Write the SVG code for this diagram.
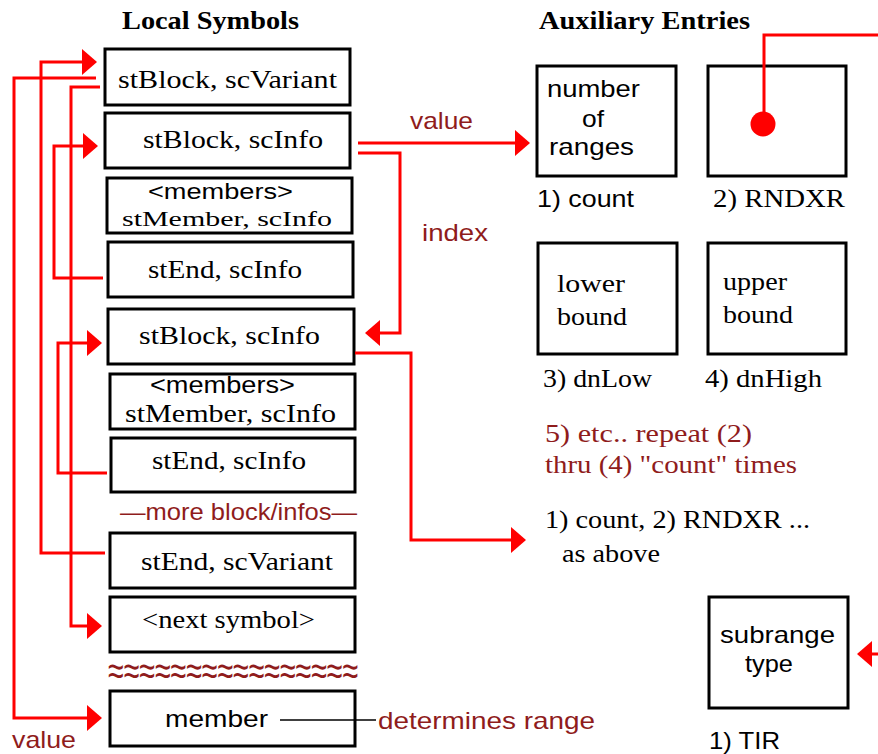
<svg xmlns="http://www.w3.org/2000/svg" width="878" height="754" viewBox="0 0 878 754">
<style>
.box{fill:#fff;stroke:#000;stroke-width:3}
.conn{fill:none;stroke:#ff0000;stroke-width:3}
.serif{font-family:"Liberation Serif","Times New Roman",serif;font-size:26px;fill:#000}
.sans{font-family:"Liberation Sans",Arial,sans-serif;font-size:24px;fill:#000}
.head{font-family:"Liberation Serif","Times New Roman",serif;font-size:25px;font-weight:bold;fill:#000}
.dr{fill:#8f1c1c}
.sm{font-size:22px}
</style>
<defs>
<marker id="arr" markerUnits="userSpaceOnUse" viewBox="0 0 15 26" refX="2" refY="13" markerWidth="15" markerHeight="26" orient="auto">
<path d="M0,0 L15,13 L0,26 Z" fill="#ff0000"/>
</marker>
</defs>
<rect width="878" height="754" fill="#fff"/>
<text class="head" x="122" y="29" textLength="177" lengthAdjust="spacingAndGlyphs">Local Symbols</text>
<text class="head" x="539" y="29" textLength="211" lengthAdjust="spacingAndGlyphs">Auxiliary Entries</text>

<g id="n1"><rect class="box" x="105" y="49" width="245" height="56"/><text class="serif" x="118" y="88" textLength="219" lengthAdjust="spacingAndGlyphs">stBlock, scVariant</text></g>
<g id="n2"><rect class="box" x="105" y="113" width="245" height="55"/><text class="serif" x="143" y="148" textLength="180" lengthAdjust="spacingAndGlyphs">stBlock, scInfo</text></g>
<g id="n3"><rect class="box" x="107" y="178" width="245" height="55"/><text class="sans sm" x="148" y="199" textLength="145" lengthAdjust="spacingAndGlyphs">&lt;members&gt;</text><text class="serif sm" x="122" y="226" textLength="210" lengthAdjust="spacingAndGlyphs">stMember, scInfo</text></g>
<g id="n4"><rect class="box" x="108" y="242" width="245" height="55"/><text class="serif" x="148" y="278" textLength="154" lengthAdjust="spacingAndGlyphs">stEnd, scInfo</text></g>
<g id="n5"><rect class="box" x="108" y="309" width="246" height="55"/><text class="serif" x="139" y="344" textLength="181" lengthAdjust="spacingAndGlyphs">stBlock, scInfo</text></g>
<g id="n6"><rect class="box" x="110" y="374" width="245" height="55"/><text class="sans" x="150" y="393" textLength="145" lengthAdjust="spacingAndGlyphs">&lt;members&gt;</text><text class="serif" x="125" y="422" textLength="211" lengthAdjust="spacingAndGlyphs">stMember, scInfo</text></g>
<g id="n7"><rect class="box" x="111" y="438" width="244" height="54"/><text class="serif" x="152" y="469" textLength="154" lengthAdjust="spacingAndGlyphs">stEnd, scInfo</text></g>
<g id="more"><text class="sans dr" x="120" y="520" textLength="237" lengthAdjust="spacingAndGlyphs">—more block/infos—</text></g>
<g id="n8"><rect class="box" x="110" y="533" width="245" height="55"/><text class="serif" x="141" y="570" textLength="192" lengthAdjust="spacingAndGlyphs">stEnd, scVariant</text></g>
<g id="n9"><rect class="box" x="110" y="597" width="245" height="55"/><text class="serif" x="142" y="628" textLength="173" lengthAdjust="spacingAndGlyphs">&lt;next symbol&gt;</text></g>
<g id="gap"><text class="sans dr" style="font-size:42px" x="108" y="685" textLength="250" lengthAdjust="spacingAndGlyphs">≈≈≈≈≈≈≈≈≈≈≈≈≈≈≈≈</text></g>
<g id="n10"><rect class="box" x="110" y="691" width="245" height="55"/><text class="sans" x="165" y="727" textLength="103" lengthAdjust="spacingAndGlyphs">member</text></g>
<g id="labels">
<text class="sans dr" x="378" y="729" textLength="217" lengthAdjust="spacingAndGlyphs">determines range</text>
<text class="sans dr" x="12" y="748" textLength="64" lengthAdjust="spacingAndGlyphs">value</text>
<text class="sans dr" x="410" y="129" textLength="63" lengthAdjust="spacingAndGlyphs">value</text>
<text class="sans dr" x="422" y="241" textLength="66" lengthAdjust="spacingAndGlyphs">index</text>
</g>

<g id="a1"><rect class="box" x="537" y="66" width="139" height="110"/><text class="sans" x="547" y="97" textLength="93" lengthAdjust="spacingAndGlyphs">number</text><text class="sans" x="582" y="127" textLength="22" lengthAdjust="spacingAndGlyphs">of</text><text class="sans" x="549" y="155" textLength="85" lengthAdjust="spacingAndGlyphs">ranges</text><text class="sans" x="537" y="207" textLength="97" lengthAdjust="spacingAndGlyphs">1) count</text></g>
<g id="a2"><rect class="box" x="708" y="66" width="138" height="110"/><text class="serif" x="713" y="207" textLength="132" lengthAdjust="spacingAndGlyphs">2) RNDXR</text></g>
<g id="a3"><rect class="box" x="538" y="243" width="139" height="111"/><text class="serif" x="557" y="292" textLength="68" lengthAdjust="spacingAndGlyphs">lower</text><text class="serif" x="557" y="325" textLength="70" lengthAdjust="spacingAndGlyphs">bound</text><text class="serif" x="543" y="387" textLength="109" lengthAdjust="spacingAndGlyphs">3) dnLow</text></g>
<g id="a4"><rect class="box" x="708" y="243" width="138" height="111"/><text class="serif" x="723" y="290" textLength="64" lengthAdjust="spacingAndGlyphs">upper</text><text class="serif" x="723" y="323" textLength="70" lengthAdjust="spacingAndGlyphs">bound</text><text class="serif" x="705" y="387" textLength="117" lengthAdjust="spacingAndGlyphs">4) dnHigh</text></g>
<g id="repeat"><text class="serif dr" x="545" y="442" textLength="207" lengthAdjust="spacingAndGlyphs">5) etc.. repeat (2)</text><text class="serif dr" x="545" y="473" textLength="252" lengthAdjust="spacingAndGlyphs">thru (4) "count" times</text></g>
<g id="next"><text class="serif" x="545" y="528" textLength="265" lengthAdjust="spacingAndGlyphs">1) count, 2) RNDXR ...</text><text class="serif" x="562" y="562" textLength="98" lengthAdjust="spacingAndGlyphs">as above</text></g>
<g id="a5"><rect class="box" x="709" y="597" width="139" height="111"/><text class="sans" x="720" y="643" textLength="115" lengthAdjust="spacingAndGlyphs">subrange</text><text class="sans" x="745" y="672" textLength="48" lengthAdjust="spacingAndGlyphs">type</text><text class="sans" x="709" y="749" textLength="71" lengthAdjust="spacingAndGlyphs">1) TIR</text></g>

<g id="connectors">
<path class="conn" d="M96,78 H14 V718 H89" marker-end="url(#arr)"/>
<path class="conn" d="M105,553 H41 V62 H84" marker-end="url(#arr)"/>
<path class="conn" d="M100,87 H71 V626 H89" marker-end="url(#arr)"/>
<path class="conn" d="M103,278 H54 V146 H85" marker-end="url(#arr)"/>
<path class="conn" d="M107,473 H58 V343 H89" marker-end="url(#arr)"/>
<path class="conn" d="M358,143 H517" marker-end="url(#arr)"/>
<path class="conn" d="M358,153 H400 V333 H378" marker-end="url(#arr)"/>
<path class="conn" d="M355,353 H411 V540 H513" marker-end="url(#arr)"/>
<path class="conn" d="M878,35 H764 V124"/>
<circle cx="763" cy="124" r="12.5" fill="#ff0000"/>
<path class="conn" d="M878,654 H870" marker-end="url(#arr)"/>
<path d="M280,720 H376" fill="none" stroke="#000" stroke-width="1.5"/>
</g>
</svg>
